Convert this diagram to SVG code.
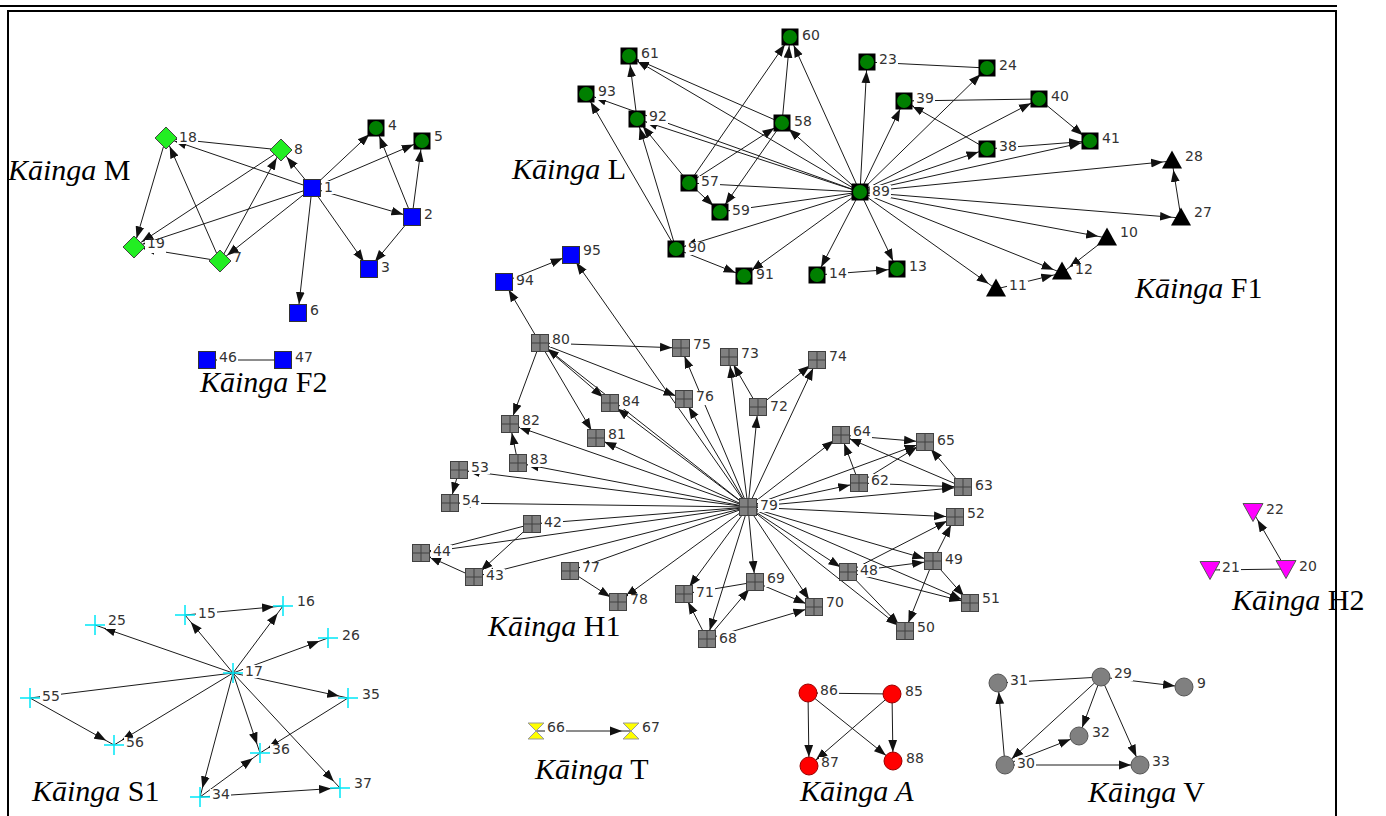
<svg xmlns="http://www.w3.org/2000/svg" xmlns:xlink="http://www.w3.org/1999/xlink" width="1386" height="816" viewBox="0 0 1386 816">
<style>
.c line{stroke:#1a1a1a;stroke-width:1;marker-end:url(#a)}
.b{fill:#fff}
.nd text{font-family:"DejaVu Sans",sans-serif;font-size:14px;fill:#333}
.k{font-family:"Liberation Serif",serif;font-size:30px;fill:#000}
.i{font-style:italic}
</style>
<defs>
<marker id="a" markerUnits="userSpaceOnUse" viewBox="0 0 24 10" markerWidth="24" markerHeight="10" refX="21" refY="5" orient="auto"><path d="M0,0.6L12,5L0,9.4Z" fill="#111"/></marker>
<g id="bs"><rect x="-8.5" y="-8.5" width="17" height="17" fill="#0000ff" stroke="#333"/></g>
<g id="gc"><rect x="-8.5" y="-8.5" width="17" height="17" fill="#000"/><circle r="7" fill="#007f00"/></g>
<g id="gs"><rect x="-8.5" y="-8.5" width="17" height="17" fill="#808080" stroke="#404040"/><path d="M0,-8.5V8.5M-8.5,0H8.5" stroke="#404040"/></g>
<g id="dm"><path d="M0,-11L11,0L0,11L-11,0Z" fill="#22ee22" stroke="#444"/></g>
<g id="tr"><path d="M0,-9.5L10,8.5H-10Z" fill="#000"/></g>
<g id="mt"><path d="M-10,-8.5H10L0,9.5Z" fill="#ff00ff" stroke="#555"/></g>
<g id="pl"><path d="M-10,0H10M0,-10V10" stroke="#00e8f8" stroke-width="1.5"/></g>
<g id="hg"><path d="M-8,-8H8L-8,8H8Z" fill="#ffff00" stroke="#999"/></g>
<g id="rc"><circle r="9" fill="#ff0000" stroke="#900"/></g>
<g id="vc"><circle r="9" fill="#808080" stroke="#555"/></g>
</defs>
<rect width="1386" height="816" fill="#fff"/>
<g id="frame">
<line x1="0" y1="6" x2="1337" y2="6" stroke="#000" stroke-width="2"/>
<rect x="8" y="11" width="1328" height="820" fill="none" stroke="#000" stroke-width="2"/>
</g>
<g id="connectors" class="c">
<line x1="312" y1="188" x2="166" y2="138"/>
<line x1="281" y1="150" x2="166" y2="138"/>
<line x1="312" y1="188" x2="281" y2="150"/>
<line x1="312" y1="188" x2="376" y2="128"/>
<line x1="312" y1="188" x2="422" y2="141"/>
<line x1="312" y1="188" x2="412" y2="217"/>
<line x1="312" y1="188" x2="369" y2="269"/>
<line x1="312" y1="188" x2="298" y2="313"/>
<line x1="312" y1="188" x2="220" y2="261"/>
<line x1="312" y1="188" x2="134" y2="247"/>
<line x1="281" y1="150" x2="134" y2="247"/>
<line x1="166" y1="138" x2="134" y2="247"/>
<line x1="220" y1="261" x2="134" y2="247"/>
<line x1="220" y1="261" x2="166" y2="138"/>
<line x1="220" y1="261" x2="281" y2="150"/>
<line x1="412" y1="217" x2="376" y2="128"/>
<line x1="412" y1="217" x2="422" y2="141"/>
<line x1="412" y1="217" x2="369" y2="269"/>
<line x1="283" y1="360" x2="207" y2="360"/>
<line x1="860" y1="192" x2="790" y2="37"/>
<line x1="782" y1="123" x2="790" y2="37"/>
<line x1="689" y1="183" x2="790" y2="37"/>
<line x1="860" y1="192" x2="782" y2="123"/>
<line x1="689" y1="183" x2="782" y2="123"/>
<line x1="782" y1="123" x2="720" y2="212"/>
<line x1="689" y1="183" x2="720" y2="212"/>
<line x1="782" y1="123" x2="629" y2="56"/>
<line x1="860" y1="192" x2="629" y2="56"/>
<line x1="637" y1="119" x2="629" y2="56"/>
<line x1="676" y1="249" x2="586" y2="94"/>
<line x1="676" y1="249" x2="637" y2="119"/>
<line x1="860" y1="192" x2="637" y2="119"/>
<line x1="860" y1="192" x2="586" y2="94"/>
<line x1="689" y1="183" x2="637" y2="119"/>
<line x1="860" y1="192" x2="867" y2="62"/>
<line x1="987" y1="68" x2="867" y2="62"/>
<line x1="860" y1="192" x2="987" y2="68"/>
<line x1="860" y1="192" x2="904" y2="101"/>
<line x1="1039" y1="99" x2="904" y2="101"/>
<line x1="987" y1="149" x2="904" y2="101"/>
<line x1="860" y1="192" x2="1039" y2="99"/>
<line x1="1039" y1="99" x2="1090" y2="141"/>
<line x1="987" y1="149" x2="1090" y2="141"/>
<line x1="860" y1="192" x2="1090" y2="141"/>
<line x1="860" y1="192" x2="987" y2="149"/>
<line x1="860" y1="192" x2="1172" y2="161"/>
<line x1="860" y1="192" x2="1181" y2="218"/>
<line x1="1181" y1="218" x2="1172" y2="161"/>
<line x1="860" y1="192" x2="1107" y2="238"/>
<line x1="860" y1="192" x2="1062" y2="273"/>
<line x1="860" y1="192" x2="996" y2="289"/>
<line x1="996" y1="289" x2="1062" y2="273"/>
<line x1="1107" y1="238" x2="1062" y2="273"/>
<line x1="860" y1="192" x2="897" y2="269"/>
<line x1="817" y1="275" x2="897" y2="269"/>
<line x1="860" y1="192" x2="817" y2="275"/>
<line x1="860" y1="192" x2="744" y2="276"/>
<line x1="676" y1="249" x2="744" y2="276"/>
<line x1="860" y1="192" x2="676" y2="249"/>
<line x1="860" y1="192" x2="689" y2="183"/>
<line x1="860" y1="192" x2="720" y2="212"/>
<line x1="540" y1="343" x2="504" y2="282"/>
<line x1="504" y1="282" x2="571" y2="255"/>
<line x1="748" y1="507" x2="571" y2="255"/>
<line x1="540" y1="343" x2="681" y2="348"/>
<line x1="748" y1="507" x2="681" y2="348"/>
<line x1="540" y1="343" x2="684" y2="399"/>
<line x1="748" y1="507" x2="684" y2="399"/>
<line x1="540" y1="343" x2="610" y2="403"/>
<line x1="748" y1="507" x2="610" y2="403"/>
<line x1="748" y1="507" x2="540" y2="343"/>
<line x1="540" y1="343" x2="596" y2="438"/>
<line x1="540" y1="343" x2="510" y2="424"/>
<line x1="518" y1="463" x2="510" y2="424"/>
<line x1="748" y1="507" x2="510" y2="424"/>
<line x1="748" y1="507" x2="596" y2="438"/>
<line x1="748" y1="507" x2="518" y2="463"/>
<line x1="748" y1="507" x2="459" y2="470"/>
<line x1="459" y1="470" x2="450" y2="503"/>
<line x1="748" y1="507" x2="450" y2="503"/>
<line x1="748" y1="507" x2="729" y2="357"/>
<line x1="758" y1="407" x2="729" y2="357"/>
<line x1="748" y1="507" x2="758" y2="407"/>
<line x1="758" y1="407" x2="817" y2="360"/>
<line x1="748" y1="507" x2="817" y2="360"/>
<line x1="748" y1="507" x2="841" y2="435"/>
<line x1="841" y1="435" x2="925" y2="442"/>
<line x1="748" y1="507" x2="925" y2="442"/>
<line x1="859" y1="483" x2="925" y2="442"/>
<line x1="859" y1="483" x2="841" y2="435"/>
<line x1="963" y1="487" x2="841" y2="435"/>
<line x1="963" y1="487" x2="925" y2="442"/>
<line x1="748" y1="507" x2="859" y2="483"/>
<line x1="859" y1="483" x2="963" y2="487"/>
<line x1="748" y1="507" x2="963" y2="487"/>
<line x1="748" y1="507" x2="955" y2="517"/>
<line x1="848" y1="572" x2="955" y2="517"/>
<line x1="933" y1="561" x2="955" y2="517"/>
<line x1="748" y1="507" x2="933" y2="561"/>
<line x1="848" y1="572" x2="933" y2="561"/>
<line x1="748" y1="507" x2="848" y2="572"/>
<line x1="933" y1="561" x2="970" y2="603"/>
<line x1="848" y1="572" x2="970" y2="603"/>
<line x1="748" y1="507" x2="970" y2="603"/>
<line x1="933" y1="561" x2="905" y2="631"/>
<line x1="848" y1="572" x2="905" y2="631"/>
<line x1="748" y1="507" x2="905" y2="631"/>
<line x1="748" y1="507" x2="814" y2="607"/>
<line x1="755" y1="582" x2="814" y2="607"/>
<line x1="707" y1="639" x2="814" y2="607"/>
<line x1="748" y1="507" x2="755" y2="582"/>
<line x1="707" y1="639" x2="755" y2="582"/>
<line x1="748" y1="507" x2="684" y2="594"/>
<line x1="755" y1="582" x2="684" y2="594"/>
<line x1="707" y1="639" x2="684" y2="594"/>
<line x1="748" y1="507" x2="707" y2="639"/>
<line x1="570" y1="571" x2="618" y2="602"/>
<line x1="748" y1="507" x2="618" y2="602"/>
<line x1="748" y1="507" x2="570" y2="571"/>
<line x1="748" y1="507" x2="532" y2="524"/>
<line x1="532" y1="524" x2="421" y2="553"/>
<line x1="748" y1="507" x2="421" y2="553"/>
<line x1="474" y1="577" x2="421" y2="553"/>
<line x1="532" y1="524" x2="474" y2="577"/>
<line x1="748" y1="507" x2="474" y2="577"/>
<line x1="233" y1="673" x2="95" y2="625"/>
<line x1="233" y1="673" x2="185" y2="615"/>
<line x1="185" y1="615" x2="283" y2="606"/>
<line x1="233" y1="673" x2="283" y2="606"/>
<line x1="233" y1="673" x2="328" y2="638"/>
<line x1="233" y1="673" x2="348" y2="698"/>
<line x1="233" y1="673" x2="260" y2="753"/>
<line x1="233" y1="673" x2="340" y2="788"/>
<line x1="233" y1="673" x2="200" y2="797"/>
<line x1="200" y1="797" x2="260" y2="753"/>
<line x1="200" y1="797" x2="340" y2="788"/>
<line x1="348" y1="698" x2="260" y2="753"/>
<line x1="30" y1="698" x2="114" y2="745"/>
<line x1="233" y1="673" x2="114" y2="745"/>
<line x1="233" y1="673" x2="30" y2="698"/>
<line x1="536" y1="731" x2="631" y2="731"/>
<line x1="808" y1="693" x2="809" y2="766"/>
<line x1="892" y1="694" x2="893" y2="761"/>
<line x1="808" y1="693" x2="893" y2="761"/>
<line x1="892" y1="694" x2="809" y2="766"/>
<line x1="892" y1="694" x2="808" y2="693"/>
<line x1="1101" y1="677" x2="1184" y2="687"/>
<line x1="1101" y1="677" x2="1079" y2="736"/>
<line x1="1101" y1="677" x2="1140" y2="765"/>
<line x1="1005" y1="765" x2="998" y2="683"/>
<line x1="1005" y1="765" x2="1079" y2="736"/>
<line x1="1005" y1="765" x2="1140" y2="765"/>
<line x1="1101" y1="677" x2="1005" y2="765"/>
<line x1="1101" y1="677" x2="998" y2="683"/>
<line x1="1286" y1="569" x2="1253" y2="512"/>
<line x1="1286" y1="569" x2="1210" y2="570"/>
</g>
<g class="nd">
<g id="n18" transform="translate(166,138)"><use href="#dm"/><rect class="b" x="11" y="-7" width="21" height="13"/><text x="13" y="4">18</text></g>
<g id="n8" transform="translate(281,150)"><use href="#dm"/><rect class="b" x="11" y="-7" width="12" height="13"/><text x="13" y="4">8</text></g>
<g id="n19" transform="translate(134,247)"><use href="#dm"/><rect class="b" x="11" y="-7" width="21" height="13"/><text x="13" y="1">19</text></g>
<g id="n7" transform="translate(220,261)"><use href="#dm"/><rect class="b" x="11" y="-7" width="12" height="13"/><text x="13" y="1">7</text></g>
<g id="n1" transform="translate(312,188)"><use href="#bs"/><rect class="b" x="10" y="-7" width="12" height="13"/><text x="12" y="4">1</text></g>
<g id="n4" transform="translate(376,128)"><use href="#gc"/><rect class="b" x="10" y="-7" width="12" height="13"/><text x="12" y="2">4</text></g>
<g id="n5" transform="translate(422,141)"><use href="#gc"/><rect class="b" x="10" y="-7" width="12" height="13"/><text x="12" y="0">5</text></g>
<g id="n2" transform="translate(412,217)"><use href="#bs"/><rect class="b" x="10" y="-7" width="12" height="13"/><text x="12" y="2">2</text></g>
<g id="n3" transform="translate(369,269)"><use href="#bs"/><rect class="b" x="10" y="-7" width="12" height="13"/><text x="12" y="3">3</text></g>
<g id="n6" transform="translate(298,313)"><use href="#bs"/><rect class="b" x="10" y="-7" width="12" height="13"/><text x="12" y="2">6</text></g>
<g id="n46" transform="translate(207,360)"><use href="#bs"/><rect class="b" x="10" y="-7" width="21" height="13"/><text x="12" y="2">46</text></g>
<g id="n47" transform="translate(283,360)"><use href="#bs"/><rect class="b" x="10" y="-7" width="21" height="13"/><text x="12" y="2">47</text></g>
<g id="n60" transform="translate(790,37)"><use href="#gc"/><rect class="b" x="10" y="-7" width="21" height="13"/><text x="12" y="3">60</text></g>
<g id="n61" transform="translate(629,56)"><use href="#gc"/><rect class="b" x="10" y="-7" width="21" height="13"/><text x="12" y="2">61</text></g>
<g id="n93" transform="translate(586,94)"><use href="#gc"/><rect class="b" x="10" y="-7" width="21" height="13"/><text x="12" y="2">93</text></g>
<g id="n92" transform="translate(637,119)"><use href="#gc"/><rect class="b" x="10" y="-7" width="21" height="13"/><text x="12" y="2">92</text></g>
<g id="n58" transform="translate(782,123)"><use href="#gc"/><rect class="b" x="10" y="-7" width="21" height="13"/><text x="12" y="3">58</text></g>
<g id="n57" transform="translate(689,183)"><use href="#gc"/><rect class="b" x="10" y="-7" width="21" height="13"/><text x="12" y="3">57</text></g>
<g id="n59" transform="translate(720,212)"><use href="#gc"/><rect class="b" x="10" y="-7" width="21" height="13"/><text x="12" y="3">59</text></g>
<g id="n89" transform="translate(860,192)"><use href="#gc"/><rect class="b" x="10" y="-7" width="21" height="13"/><text x="12" y="4">89</text></g>
<g id="n90" transform="translate(676,249)"><use href="#gc"/><rect class="b" x="10" y="-7" width="21" height="13"/><text x="12" y="3">90</text></g>
<g id="n91" transform="translate(744,276)"><use href="#gc"/><rect class="b" x="10" y="-7" width="21" height="13"/><text x="12" y="3">91</text></g>
<g id="n14" transform="translate(817,275)"><use href="#gc"/><rect class="b" x="10" y="-7" width="21" height="13"/><text x="12" y="3">14</text></g>
<g id="n13" transform="translate(897,269)"><use href="#gc"/><rect class="b" x="10" y="-7" width="21" height="13"/><text x="12" y="2">13</text></g>
<g id="n23" transform="translate(867,62)"><use href="#gc"/><rect class="b" x="10" y="-7" width="21" height="13"/><text x="12" y="2">23</text></g>
<g id="n24" transform="translate(987,68)"><use href="#gc"/><rect class="b" x="10" y="-7" width="21" height="13"/><text x="12" y="2">24</text></g>
<g id="n39" transform="translate(904,101)"><use href="#gc"/><rect class="b" x="10" y="-7" width="21" height="13"/><text x="12" y="2">39</text></g>
<g id="n40" transform="translate(1039,99)"><use href="#gc"/><rect class="b" x="10" y="-7" width="21" height="13"/><text x="12" y="2">40</text></g>
<g id="n41" transform="translate(1090,141)"><use href="#gc"/><rect class="b" x="10" y="-7" width="21" height="13"/><text x="12" y="2">41</text></g>
<g id="n38" transform="translate(987,149)"><use href="#gc"/><rect class="b" x="10" y="-7" width="21" height="13"/><text x="12" y="2">38</text></g>
<g id="n28" transform="translate(1172,160)"><use href="#tr"/><rect class="b" x="11" y="-9" width="21" height="13"/><text x="13" y="1">28</text></g>
<g id="n27" transform="translate(1181,217)"><use href="#tr"/><rect class="b" x="11" y="-9" width="21" height="13"/><text x="13" y="0">27</text></g>
<g id="n10" transform="translate(1107,237)"><use href="#tr"/><rect class="b" x="11" y="-9" width="21" height="13"/><text x="13" y="0">10</text></g>
<g id="n12" transform="translate(1062,271)"><use href="#tr"/><rect class="b" x="11" y="-7" width="21" height="13"/><text x="13" y="3">12</text></g>
<g id="n11" transform="translate(996,288)"><use href="#tr"/><rect class="b" x="11" y="-7" width="21" height="13"/><text x="13" y="2">11</text></g>
<g id="n94" transform="translate(504,282)"><use href="#bs"/><rect class="b" x="10" y="-7" width="21" height="13"/><text x="12" y="3">94</text></g>
<g id="n95" transform="translate(571,255)"><use href="#bs"/><rect class="b" x="10" y="-9" width="21" height="13"/><text x="12" y="0">95</text></g>
<g id="n80" transform="translate(540,343)"><use href="#gs"/><rect class="b" x="10" y="-9" width="21" height="13"/><text x="12" y="1">80</text></g>
<g id="n75" transform="translate(681,348)"><use href="#gs"/><rect class="b" x="10" y="-9" width="21" height="13"/><text x="12" y="1">75</text></g>
<g id="n73" transform="translate(729,357)"><use href="#gs"/><rect class="b" x="10" y="-9" width="21" height="13"/><text x="12" y="1">73</text></g>
<g id="n74" transform="translate(817,360)"><use href="#gs"/><rect class="b" x="10" y="-9" width="21" height="13"/><text x="12" y="1">74</text></g>
<g id="n84" transform="translate(610,403)"><use href="#gs"/><rect class="b" x="10" y="-7" width="21" height="13"/><text x="12" y="3">84</text></g>
<g id="n76" transform="translate(684,399)"><use href="#gs"/><rect class="b" x="10" y="-7" width="21" height="13"/><text x="12" y="2">76</text></g>
<g id="n72" transform="translate(758,407)"><use href="#gs"/><rect class="b" x="10" y="-7" width="21" height="13"/><text x="12" y="4">72</text></g>
<g id="n82" transform="translate(510,424)"><use href="#gs"/><rect class="b" x="10" y="-9" width="21" height="13"/><text x="12" y="1">82</text></g>
<g id="n81" transform="translate(596,438)"><use href="#gs"/><rect class="b" x="10" y="-9" width="21" height="13"/><text x="12" y="1">81</text></g>
<g id="n83" transform="translate(518,463)"><use href="#gs"/><rect class="b" x="10" y="-9" width="21" height="13"/><text x="12" y="1">83</text></g>
<g id="n53" transform="translate(459,470)"><use href="#gs"/><rect class="b" x="10" y="-9" width="21" height="13"/><text x="12" y="2">53</text></g>
<g id="n54" transform="translate(450,503)"><use href="#gs"/><rect class="b" x="10" y="-9" width="21" height="13"/><text x="12" y="2">54</text></g>
<g id="n79" transform="translate(748,507)"><use href="#gs"/><rect class="b" x="10" y="-8" width="21" height="13"/><text x="12" y="3">79</text></g>
<g id="n64" transform="translate(841,435)"><use href="#gs"/><rect class="b" x="10" y="-9" width="21" height="13"/><text x="12" y="1">64</text></g>
<g id="n65" transform="translate(925,442)"><use href="#gs"/><rect class="b" x="10" y="-8" width="21" height="13"/><text x="12" y="3">65</text></g>
<g id="n62" transform="translate(859,483)"><use href="#gs"/><rect class="b" x="10" y="-9" width="21" height="13"/><text x="12" y="2">62</text></g>
<g id="n63" transform="translate(963,487)"><use href="#gs"/><rect class="b" x="10" y="-8" width="21" height="13"/><text x="12" y="3">63</text></g>
<g id="n52" transform="translate(955,517)"><use href="#gs"/><rect class="b" x="10" y="-9" width="21" height="13"/><text x="12" y="1">52</text></g>
<g id="n42" transform="translate(532,524)"><use href="#gs"/><rect class="b" x="10" y="-8" width="21" height="13"/><text x="12" y="3">42</text></g>
<g id="n44" transform="translate(421,553)"><use href="#gs"/><rect class="b" x="10" y="-8" width="21" height="13"/><text x="12" y="3">44</text></g>
<g id="n49" transform="translate(933,561)"><use href="#gs"/><rect class="b" x="10" y="-8" width="21" height="13"/><text x="12" y="3">49</text></g>
<g id="n48" transform="translate(848,572)"><use href="#gs"/><rect class="b" x="10" y="-8" width="21" height="13"/><text x="12" y="3">48</text></g>
<g id="n43" transform="translate(474,577)"><use href="#gs"/><rect class="b" x="10" y="-8" width="21" height="13"/><text x="12" y="3">43</text></g>
<g id="n77" transform="translate(570,571)"><use href="#gs"/><rect class="b" x="10" y="-8" width="21" height="13"/><text x="12" y="1">77</text></g>
<g id="n69" transform="translate(755,582)"><use href="#gs"/><rect class="b" x="10" y="-8" width="21" height="13"/><text x="12" y="1">69</text></g>
<g id="n71" transform="translate(684,594)"><use href="#gs"/><rect class="b" x="10" y="-8" width="21" height="13"/><text x="12" y="3">71</text></g>
<g id="n78" transform="translate(618,602)"><use href="#gs"/><rect class="b" x="10" y="-8" width="21" height="13"/><text x="12" y="2">78</text></g>
<g id="n70" transform="translate(814,607)"><use href="#gs"/><rect class="b" x="10" y="-8" width="21" height="13"/><text x="12" y="0">70</text></g>
<g id="n51" transform="translate(970,603)"><use href="#gs"/><rect class="b" x="10" y="-8" width="21" height="13"/><text x="12" y="0">51</text></g>
<g id="n50" transform="translate(905,631)"><use href="#gs"/><rect class="b" x="10" y="-8" width="21" height="13"/><text x="12" y="1">50</text></g>
<g id="n68" transform="translate(707,639)"><use href="#gs"/><rect class="b" x="10" y="-8" width="21" height="13"/><text x="12" y="4">68</text></g>
<g id="n25" transform="translate(95,625)"><use href="#pl"/><rect class="b" x="11" y="-9" width="21" height="13"/><text x="13" y="0">25</text></g>
<g id="n15" transform="translate(185,615)"><use href="#pl"/><rect class="b" x="11" y="-8" width="21" height="13"/><text x="13" y="3">15</text></g>
<g id="n16" transform="translate(283,606)"><use href="#pl"/><rect class="b" x="12" y="-10" width="21" height="13"/><text x="14" y="0">16</text></g>
<g id="n26" transform="translate(328,638)"><use href="#pl"/><rect class="b" x="12" y="-8" width="21" height="13"/><text x="14" y="2">26</text></g>
<g id="n17" transform="translate(233,673)"><use href="#pl"/><rect class="b" x="10" y="-8" width="21" height="13"/><text x="12" y="3">17</text></g>
<g id="n55" transform="translate(30,698)"><use href="#pl"/><rect class="b" x="10" y="-8" width="21" height="13"/><text x="12" y="3">55</text></g>
<g id="n35" transform="translate(348,698)"><use href="#pl"/><rect class="b" x="12" y="-9" width="21" height="13"/><text x="14" y="1">35</text></g>
<g id="n56" transform="translate(114,745)"><use href="#pl"/><rect class="b" x="10" y="-8" width="21" height="13"/><text x="12" y="2">56</text></g>
<g id="n36" transform="translate(260,753)"><use href="#pl"/><rect class="b" x="10" y="-9" width="21" height="13"/><text x="12" y="1">36</text></g>
<g id="n34" transform="translate(200,797)"><use href="#pl"/><rect class="b" x="10" y="-8" width="21" height="13"/><text x="12" y="2">34</text></g>
<g id="n37" transform="translate(340,788)"><use href="#pl"/><rect class="b" x="12" y="-10" width="21" height="13"/><text x="14" y="0">37</text></g>
<g id="n66" transform="translate(536,731)"><use href="#hg"/><rect class="b" x="9" y="-9" width="21" height="13"/><text x="11" y="1">66</text></g>
<g id="n67" transform="translate(631,731)"><use href="#hg"/><rect class="b" x="9" y="-9" width="21" height="13"/><text x="11" y="1">67</text></g>
<g id="n86" transform="translate(808,693)"><use href="#rc"/><rect class="b" x="10" y="-8" width="21" height="13"/><text x="12" y="2">86</text></g>
<g id="n85" transform="translate(892,694)"><use href="#rc"/><rect class="b" x="11" y="-8" width="21" height="13"/><text x="13" y="2">85</text></g>
<g id="n87" transform="translate(809,766)"><use href="#rc"/><rect class="b" x="10" y="-9" width="21" height="13"/><text x="12" y="1">87</text></g>
<g id="n88" transform="translate(893,761)"><use href="#rc"/><rect class="b" x="11" y="-8" width="21" height="13"/><text x="13" y="2">88</text></g>
<g id="n31" transform="translate(998,683)"><use href="#vc"/><rect class="b" x="10" y="-8" width="21" height="13"/><text x="12" y="2">31</text></g>
<g id="n29" transform="translate(1101,677)"><use href="#vc"/><rect class="b" x="11" y="-9" width="21" height="13"/><text x="13" y="1">29</text></g>
<g id="n9" transform="translate(1184,687)"><use href="#vc"/><rect class="b" x="11" y="-9" width="12" height="13"/><text x="13" y="1">9</text></g>
<g id="n32" transform="translate(1079,736)"><use href="#vc"/><rect class="b" x="11" y="-9" width="21" height="13"/><text x="13" y="1">32</text></g>
<g id="n30" transform="translate(1005,765)"><use href="#vc"/><rect class="b" x="10" y="-8" width="21" height="13"/><text x="12" y="3">30</text></g>
<g id="n33" transform="translate(1140,765)"><use href="#vc"/><rect class="b" x="10" y="-9" width="21" height="13"/><text x="12" y="1">33</text></g>
<g id="n22" transform="translate(1253,512)"><use href="#mt"/><rect class="b" x="11" y="-9" width="21" height="13"/><text x="13" y="2">22</text></g>
<g id="n21" transform="translate(1210,570)"><use href="#mt"/><rect class="b" x="10" y="-9" width="21" height="13"/><text x="12" y="2">21</text></g>
<g id="n20" transform="translate(1286,569)"><use href="#mt"/><rect class="b" x="11" y="-9" width="21" height="13"/><text x="13" y="2">20</text></g>
</g>
<g id="titles" font-family="'Liberation Serif', serif" font-size="30" fill="#000">
<text x="8" y="180"><tspan font-style="italic">Kāinga</tspan> M</text>
<text x="200" y="392"><tspan font-style="italic">Kāinga</tspan> F2</text>
<text x="512" y="179"><tspan font-style="italic">Kāinga</tspan> L</text>
<text x="1135" y="298"><tspan font-style="italic">Kāinga</tspan> F1</text>
<text x="488" y="636"><tspan font-style="italic">Kāinga</tspan> H1</text>
<text x="32" y="801"><tspan font-style="italic">Kāinga</tspan> S1</text>
<text x="535" y="779"><tspan font-style="italic">Kāinga</tspan> T</text>
<text x="800" y="801" font-style="italic">Kāinga A</text>
<text x="1088" y="802"><tspan font-style="italic">Kāinga</tspan> V</text>
<text x="1232" y="610"><tspan font-style="italic">Kāinga</tspan> H2</text>
</g>
</svg>
